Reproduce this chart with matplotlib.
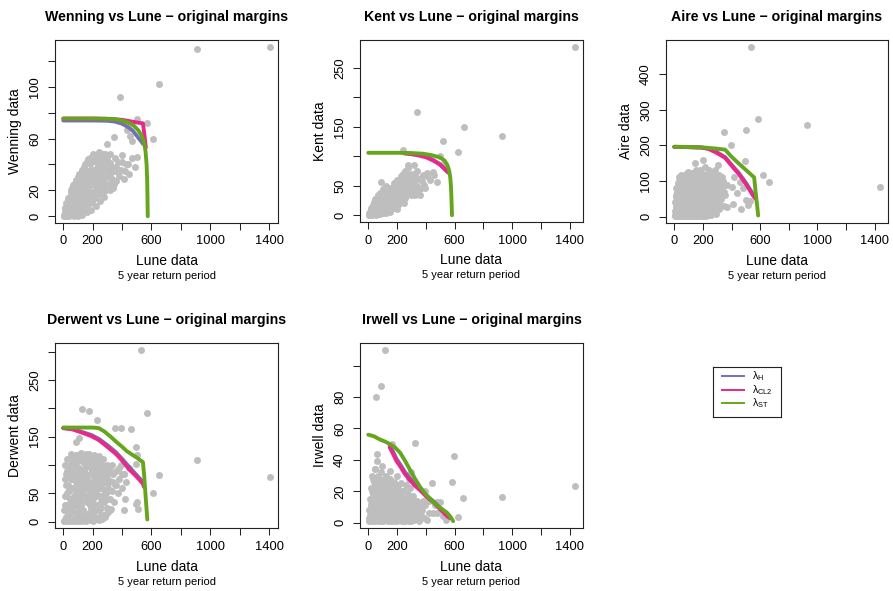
import numpy as np
import matplotlib
matplotlib.use('Agg')
import matplotlib.pyplot as plt

plt.rcParams['font.family'] = ['Liberation Sans', 'DejaVu Sans']
plt.rcParams['mathtext.fontset'] = 'custom'
plt.rcParams['mathtext.rm'] = 'Liberation Sans'
plt.rcParams['mathtext.it'] = 'Liberation Sans:italic'

GREY = '#BEBEBE'
COL_H = '#7570B3'
COL_CL2 = '#E7298A'
COL_ST = '#66A61E'

# Lune vs other rivers: (lune, other) pairs
wenning_pts = [
    (2, 0), (5, 1), (8, 0), (10, 3), (12, 1), (15, 2), (15, 6), (18, 2), (20, 5), (22, 3), (25, 1), (25, 9),
    (28, 0), (30, 8), (33, 2), (35, 4), (35, 12), (38, 6), (40, 10), (42, 3), (45, 2), (45, 15), (48, 8),
    (50, 6), (52, 1), (55, 12), (55, 20), (58, 5), (60, 3), (60, 17), (62, 10), (65, 9), (65, 24), (68, 2),
    (70, 14), (72, 7), (75, 5), (75, 22), (78, 13), (80, 11), (82, 4), (85, 18), (85, 28), (88, 9), (90, 7),
    (92, 1), (95, 15), (98, 12), (100, 24), (100, 3), (105, 11), (108, 5), (110, 20), (112, 14), (115, 30),
    (118, 2), (120, 8), (120, 16), (125, 25), (128, 6), (130, 36), (135, 12), (138, 4), (140, 21), (145, 30),
    (148, 13), (150, 9), (150, 40), (155, 18), (158, 7), (160, 27), (165, 35), (168, 20), (170, 14), (170, 44),
    (175, 23), (178, 16), (180, 31), (185, 10), (185, 40), (188, 25), (190, 19), (195, 28), (198, 11),
    (200, 36), (200, 48), (205, 15), (208, 33), (210, 24), (215, 32), (218, 14), (220, 42), (225, 20),
    (228, 37), (230, 29), (235, 38), (238, 25), (240, 50), (245, 17), (248, 43), (250, 26), (255, 34),
    (258, 21), (260, 45), (265, 22), (268, 39), (270, 31), (275, 40), (278, 24), (280, 28), (285, 48),
    (290, 20), (295, 36), (300, 44), (310, 25), (315, 33), (320, 41), (330, 29), (335, 38), (340, 22),
    (350, 35), (360, 27), (370, 42), (380, 31), (395, 36), (410, 29), (430, 40), (450, 33), (470, 45),
    (490, 38), (505, 46), (397, 47), (440, 40), (345, 61), (300, 56), (385, 92), (436, 67), (453, 62),
    (467, 58), (504, 75), (572, 72), (613, 60), (651, 102), (912, 129), (1405, 131),
    (10, 6), (20, 10), (30, 14), (40, 5), (50, 18), (60, 22), (70, 25), (80, 20), (90, 26), (100, 30),
    (110, 33), (120, 27), (130, 22), (140, 38), (150, 33), (160, 42), (170, 30), (180, 45), (190, 36),
    (200, 26), (210, 44), (220, 35), (230, 47), (240, 32), (250, 40), (260, 30), (270, 48), (280, 36),
    (290, 42), (300, 30), (310, 38), (320, 48), (330, 35), (350, 45), (360, 38), (375, 34), (400, 42),
    (420, 35), (345, 25), (320, 20), (280, 15), (250, 12), (220, 8), (190, 5), (160, 3), (130, 1), (100, 0),
    (70, 0), (40, 0), (90, 14), (110, 8), (130, 17), (150, 24), (170, 26), (190, 30), (210, 19), (230, 23),
    (250, 35), (270, 18),
]
kent_pts = [
    (3, 1), (5, 0), (8, 4), (12, 2), (15, 1), (18, 7), (20, 12), (22, 3), (25, 0), (28, 10), (30, 17),
    (32, 5), (35, 2), (38, 14), (40, 22), (42, 2), (45, 4), (48, 9), (50, 27), (52, 18), (55, 1), (58, 6),
    (60, 30), (62, 12), (65, 3), (68, 22), (70, 34), (72, 4), (75, 7), (78, 16), (80, 38), (82, 27), (85, 2),
    (88, 9), (90, 56), (92, 20), (95, 11), (98, 32), (100, 44), (102, 5), (105, 4), (108, 14), (112, 25),
    (115, 8), (118, 36), (120, 50), (122, 11), (125, 3), (128, 19), (132, 30), (135, 15), (138, 42),
    (142, 8), (145, 13), (148, 24), (152, 35), (155, 10), (158, 47), (162, 15), (165, 20), (168, 29),
    (172, 40), (175, 26), (178, 55), (182, 12), (185, 32), (188, 22), (192, 34), (195, 16), (198, 46),
    (202, 60), (205, 42), (208, 18), (212, 28), (215, 22), (218, 39), (222, 52), (225, 30), (228, 66),
    (232, 24), (235, 48), (238, 33), (242, 45), (244, 111), (245, 36), (248, 58), (252, 75), (255, 55),
    (258, 30), (262, 40), (265, 38), (268, 50), (272, 64), (275, 60), (275, 85), (278, 80), (285, 36),
    (292, 48), (298, 58), (298, 49), (305, 70), (312, 42), (320, 55), (320, 85), (328, 34), (330, 65),
    (337, 75), (340, 50), (350, 62), (360, 45), (360, 34), (375, 58), (390, 52), (395, 47), (406, 71),
    (410, 66), (430, 60), (452, 73), (455, 68), (475, 56), (499, 101), (518, 126), (522, 87), (627, 108),
    (337, 176), (662, 150), (929, 135), (1435, 286),
    (10, 5), (20, 3), (30, 8), (40, 12), (50, 10), (60, 16), (70, 20), (80, 14), (90, 25), (100, 18),
    (110, 30), (120, 22), (130, 36), (140, 28), (150, 40), (160, 32), (170, 48), (180, 38), (190, 52),
    (200, 30), (210, 46), (220, 40), (230, 58), (240, 50), (250, 66), (260, 52), (270, 70), (280, 60),
    (290, 68), (300, 45), (310, 60), (100, 28), (120, 35), (140, 20), (160, 24), (180, 45), (200, 50),
    (220, 60), (240, 70), (260, 62), (280, 45), (150, 5), (200, 10), (250, 20), (300, 35), (180, 18),
    (220, 28), (260, 42), (340, 42), (380, 68),
]
aire_pts = [
    (2, 5), (6, 15), (10, 30), (14, 8), (18, 45), (22, 20), (26, 60), (30, 12), (34, 35), (38, 75), (42, 4),
    (46, 50), (50, 25), (54, 90), (58, 10), (62, 65), (66, 38), (70, 100), (74, 18), (78, 55), (82, 80),
    (86, 6), (90, 110), (94, 30), (98, 70), (102, 45), (106, 118), (110, 14), (114, 88), (118, 60),
    (122, 24), (126, 105), (130, 40), (134, 75), (138, 8), (142, 125), (146, 52), (150, 95), (154, 30),
    (158, 68), (162, 112), (166, 16), (170, 85), (174, 44), (178, 130), (182, 60), (186, 22), (190, 100),
    (194, 76), (198, 36), (202, 120), (206, 10), (210, 55), (214, 90), (218, 138), (222, 28), (226, 70),
    (230, 110), (234, 46), (238, 15), (242, 85), (246, 125), (250, 60), (254, 34), (258, 100), (262, 75),
    (266, 20), (270, 115), (274, 50), (278, 90), (282, 40), (286, 130), (290, 65), (294, 25), (298, 105),
    (302, 80), (306, 55), (310, 38), (316, 95), (322, 70), (328, 48), (334, 110), (340, 85), (346, 30),
    (352, 60), (5, 40), (12, 55), (20, 70), (28, 85), (36, 100), (44, 95), (52, 115), (60, 40), (68, 20),
    (76, 110), (84, 120), (92, 60), (100, 95), (108, 75), (116, 35), (124, 55), (132, 100), (140, 85),
    (148, 115), (156, 50), (164, 90), (172, 105), (180, 70), (188, 120), (196, 50), (204, 85), (212, 105),
    (220, 20), (228, 95), (236, 60), (244, 40), (252, 115), (260, 50), (268, 95), (276, 120), (284, 80),
    (292, 45), (8, 2), (16, 1), (24, 3), (32, 1), (40, 2), (48, 3), (56, 1), (64, 2), (72, 4), (80, 3),
    (88, 1), (96, 5), (104, 2), (112, 3), (120, 1), (128, 4), (136, 2), (144, 5), (152, 3), (160, 2),
    (168, 4), (176, 1), (184, 6), (192, 3), (200, 2), (210, 5), (220, 3), (230, 6), (240, 4), (250, 8),
    (260, 5), (270, 10), (280, 12), (290, 8), (146, 150), (204, 158), (125, 122), (62, 105), (47, 118),
    (240, 130), (313, 118), (344, 100), (370, 88), (309, 145), (417, 112), (480, 80), (526, 45), (469, 20),
    (344, 65), (367, 28), (437, 65), (402, 82), (412, 36), (460, 98), (502, 47), (518, 33), (495, 156),
    (395, 200), (348, 237), (500, 243), (584, 274), (535, 477), (622, 117), (664, 98), (929, 257),
    (1435, 82),
    (15, 20), (15, 80), (35, 45), (35, 110), (55, 30), (55, 70), (75, 85), (75, 40), (95, 20), (95, 125),
    (115, 100), (115, 70), (135, 30), (135, 115), (155, 80), (155, 130), (175, 60), (175, 20), (195, 110),
    (195, 90), (215, 40), (215, 70), (235, 100), (235, 120), (255, 75), (255, 20), (275, 60), (275, 100),
    (295, 85), (295, 30), (315, 60), (315, 20), (65, 100), (85, 60), (105, 30), (125, 80), (145, 65),
    (165, 40), (185, 90), (205, 25), (225, 50), (245, 95), (265, 115), (285, 105), (305, 95), (325, 80),
    (345, 70), (25, 95), (45, 75), (10, 60), (20, 40),
]
derwent_pts = [
    (3, 2), (8, 20), (12, 45), (16, 8), (20, 65), (24, 30), (28, 90), (32, 12), (36, 55), (40, 98), (44, 4),
    (48, 40), (52, 75), (56, 18), (60, 105), (64, 60), (68, 28), (72, 88), (76, 6), (80, 112), (84, 48),
    (88, 70), (92, 15), (96, 118), (100, 38), (104, 95), (108, 55), (112, 10), (116, 80), (120, 122),
    (124, 30), (128, 65), (132, 105), (136, 20), (140, 90), (144, 45), (148, 115), (152, 8), (156, 72),
    (160, 100), (164, 35), (168, 58), (172, 120), (176, 15), (180, 85), (184, 50), (188, 110), (192, 25),
    (196, 68), (200, 95), (204, 40), (208, 118), (212, 10), (216, 78), (220, 55), (224, 105), (228, 30),
    (232, 88), (236, 65), (240, 115), (244, 20), (248, 75), (252, 45), (256, 100), (260, 12), (264, 85),
    (268, 58), (272, 110), (276, 35), (280, 70), (285, 95), (290, 50), (295, 25), (300, 80), (305, 60),
    (310, 92), (315, 40), (320, 72), (325, 22), (330, 100), (335, 55), (340, 85), (345, 35), (350, 65),
    (360, 90), (370, 50), (380, 75), (390, 100), (400, 60), (410, 85), (420, 40), (430, 70),
    (5, 1), (15, 3), (25, 1), (35, 4), (45, 2), (55, 5), (65, 2), (75, 3), (85, 1), (95, 6), (105, 2),
    (115, 4), (125, 1), (135, 3), (145, 6), (155, 2), (165, 4), (175, 7), (185, 3), (195, 5), (205, 2),
    (215, 8), (225, 4), (235, 6), (245, 3), (255, 9), (265, 5), (275, 12), (285, 8), (295, 15), (305, 18),
    (315, 20), (10, 75), (18, 85), (26, 50), (34, 78), (42, 25), (50, 88), (58, 35), (66, 95), (74, 45),
    (82, 30), (90, 100), (98, 62), (106, 25), (114, 108), (122, 50), (130, 85), (138, 40), (146, 75),
    (154, 98), (162, 60), (170, 45), (178, 102), (186, 70), (194, 90), (202, 60), (210, 30), (218, 90),
    (226, 75), (234, 45), (242, 95), (250, 60), (258, 35), (266, 70), (274, 95), (282, 55),
    (84, 141), (106, 147), (413, 84), (447, 95), (492, 102), (504, 34), (413, 20), (497, 32), (510, 23),
    (350, 165), (391, 165), (459, 164), (494, 131), (505, 117), (231, 180), (125, 199), (175, 195),
    (572, 192), (526, 303), (610, 50), (651, 83), (912, 109), (1405, 79),
    (10, 30), (20, 45), (30, 65), (40, 80), (50, 60), (60, 85), (70, 110), (80, 90), (90, 55), (100, 110),
    (110, 90), (120, 70), (130, 115), (140, 60), (150, 40), (160, 115), (170, 80), (180, 60), (190, 95),
    (200, 110), (210, 80), (220, 105), (230, 60), (240, 80), (250, 110), (260, 90), (270, 45), (280, 90),
    (290, 70), (300, 100), (310, 70), (320, 90), (340, 70), (360, 65), (380, 95), (400, 85), (60, 20),
    (100, 15), (140, 10), (180, 30), (220, 20), (260, 25), (300, 40), (40, 60), (120, 40), (200, 45),
    (15, 100), (25, 110), (45, 110), (55, 120), (65, 75), (85, 118), (95, 80), (105, 60), (115, 50),
    (135, 55), (145, 95), (155, 120), (165, 105), (175, 65), (185, 40), (195, 20), (205, 105), (215, 115),
    (225, 85), (235, 100), (245, 70), (255, 80), (265, 100), (275, 80),
]
irwell_pts = [
    (3, 1), (6, 8), (10, 15), (14, 3), (18, 22), (22, 10), (26, 30), (30, 5), (34, 18), (38, 1), (42, 26),
    (46, 12), (50, 34), (54, 7), (58, 20), (62, 2), (66, 28), (70, 14), (74, 4), (78, 24), (82, 10),
    (86, 32), (90, 1), (94, 17), (98, 6), (102, 27), (106, 12), (110, 3), (114, 21), (118, 8), (122, 30),
    (126, 15), (130, 2), (134, 24), (138, 9), (142, 18), (146, 4), (150, 28), (154, 12), (158, 1),
    (162, 22), (166, 7), (170, 16), (174, 3), (178, 26), (182, 10), (186, 19), (190, 2), (194, 13),
    (198, 30), (202, 6), (206, 22), (210, 11), (214, 2), (218, 17), (222, 8), (226, 25), (230, 4),
    (234, 14), (238, 1), (242, 20), (246, 9), (250, 3), (254, 15), (258, 6), (262, 24), (266, 11), (270, 2),
    (274, 18), (278, 8), (282, 13), (286, 3), (290, 22), (294, 7), (298, 1), (302, 12), (308, 5), (314, 17),
    (320, 2), (326, 10), (332, 6), (338, 14), (344, 3), (350, 9), (356, 1), (362, 12), (368, 5), (375, 8),
    (385, 3), (395, 11), (405, 2), (420, 6), (8, 3), (16, 1), (24, 4), (32, 2), (40, 5), (48, 1), (56, 3),
    (64, 6), (72, 1), (80, 4), (88, 2), (96, 3), (104, 1), (112, 5), (120, 2), (128, 4), (136, 1), (144, 3),
    (152, 5), (160, 2), (168, 4), (176, 1), (184, 5), (192, 3), (200, 1), (208, 4), (216, 2), (224, 5),
    (232, 1), (240, 4), (248, 2), (256, 1), (264, 4), (272, 3), (280, 1), (288, 5), (296, 3), (20, 12),
    (28, 20), (36, 9), (44, 16), (52, 25), (60, 11), (68, 8), (76, 18), (84, 22), (92, 11), (100, 20),
    (108, 24), (116, 15), (124, 6), (132, 19), (140, 13), (148, 22), (156, 18), (164, 11), (172, 21),
    (180, 15), (188, 24), (196, 9), (204, 16), (212, 20), (220, 12), (228, 18), (236, 9), (46, 34), (58, 44),
    (62, 39), (93, 36), (165, 50), (300, 32), (280, 28), (420, 14), (465, 11), (520, 4), (540, 2), (480, 6),
    (395, 20), (441, 25), (453, 6.5), (476, 13), (499, 13), (325, 50.6), (599, 42.4), (585, 26), (627, 3.7),
    (657, 15.7), (929, 16.3), (1435, 23.5), (54, 80), (86, 87), (116, 110),
    (10, 5), (20, 7), (30, 10), (40, 12), (50, 4), (60, 15), (70, 6), (80, 12), (90, 7), (100, 14),
    (110, 9), (120, 17), (130, 10), (140, 6), (150, 14), (160, 9), (170, 12), (180, 6), (190, 10),
    (200, 17), (210, 7), (220, 15), (230, 10), (240, 12), (250, 8), (260, 16), (270, 10), (280, 14),
    (290, 9), (300, 16), (310, 9), (320, 13), (330, 8), (340, 11), (360, 8), (380, 14), (70, 30), (40, 22),
    (110, 28), (140, 25), (200, 24), (250, 20), (30, 28), (150, 33),
]

# dependence curves: (lune, other) points for lambda_H, lambda_CL2, lambda_ST
wenning_h = [(0, 74), (100, 74), (200, 74), (300, 73.8), (350, 73.2), (400, 71.5), (440, 69), (470, 66.5),
             (495, 63), (515, 60), (530, 58), (542, 56)]
wenning_cl2 = [(0, 75.5), (100, 75.5), (200, 75.5), (300, 75.3), (350, 75), (400, 74.5), (450, 73.5),
               (500, 72.5), (542, 71.8), (550, 65), (556, 59), (562, 53)]
wenning_st = [(0, 75.5), (100, 75.5), (200, 75.5), (300, 75.3), (350, 75), (400, 74), (440, 72.5),
              (480, 70), (510, 66.5), (535, 62), (550, 57), (560, 50), (567, 40), (571, 28), (573, 15),
              (575, 0)]

kent_h = [(250, 105.5), (300, 104.5), (350, 102.5), (400, 99.5), (450, 94), (490, 88), (520, 81),
          (548, 74)]
kent_cl2 = [(250, 105), (290, 104), (350, 101.5), (406, 98), (450, 93), (499, 86), (530, 79), (557, 72)]
kent_st = [(0, 106), (100, 106), (200, 106), (300, 105.5), (380, 104.5), (440, 102), (499, 98),
           (530, 93), (550, 85), (562, 76), (570, 64), (575, 48), (578, 30), (580, 15), (582, 0)]

aire_h = [(0, 196), (104, 195), (188, 194), (240, 191), (292, 182), (355, 167), (417, 138), (448, 124),
          (500, 95), (552, 62)]
aire_cl2 = [(0, 196), (104, 195), (188, 194), (240, 190), (292, 180), (355, 165), (417, 135), (448, 121),
            (500, 92), (552, 58), (568, 50)]
aire_st = [(0, 196), (104, 195.5), (208, 194), (292, 191), (355, 188), (396, 170), (437, 154),
           (495, 133), (558, 110), (568, 70), (579, 30), (586, 3)]

derwent_h = [(0, 165), (60, 164), (129, 158), (190, 153), (242, 146), (300, 135), (356, 123), (400, 111),
             (447, 97), (500, 82), (542, 70), (550, 64)]
derwent_cl2 = [(0, 165), (60, 163), (129, 157), (190, 151), (242, 144), (300, 132), (356, 120),
               (400, 108), (447, 93), (500, 79), (542, 67), (550, 61)]
derwent_st = [(0, 166), (100, 166), (200, 166), (242, 165), (280, 159), (322, 150), (360, 141),
              (401, 132), (430, 125), (458, 120), (500, 113), (542, 105), (550, 83), (556, 61),
              (564, 32), (572, 4)]

irwell_h = [(149, 49), (162, 47), (176, 44.5), (197, 40.5), (223, 37), (257, 32), (292, 28), (327, 24.5),
            (362, 21.5), (407, 17), (455, 13.5), (492, 10), (524, 7), (552, 4.5), (569, 3.3)]
irwell_cl2 = [(149, 48), (160, 46), (174, 43.5), (195, 39.5), (221, 36), (255, 31), (290, 27),
              (325, 23.5), (360, 20.7), (405, 16.5), (453, 13), (490, 9.5), (522, 6.5), (550, 4),
              (569, 2.9)]
irwell_st = [(0, 56), (40, 55), (80, 53), (120, 51.5), (151, 50), (185, 48), (221, 44.6), (255, 39.5),
             (290, 33.7), (325, 28), (360, 22.8), (400, 18), (453, 13), (500, 9.5), (546, 6.5), (570, 4),
             (590, 1)]

x_ticks = [0, 200, 400, 600, 800, 1000, 1200, 1400]
x_ticklabels = ['0', '200', '', '600', '', '1000', '', '1400']

W, H = 893, 591
fig = plt.figure(figsize=(W / 100, H / 100), dpi=100)


def px_rect(x0, y0, x1, y1):
    return [x0 / W, (H - y1) / H, (x1 - x0) / W, (y1 - y0) / H]


def draw_panel(rect, river, pts, h, cl2, st, yticks, ylabels):
    ax = fig.add_axes(rect)
    px, py = zip(*pts)
    ax.plot(px, py, 'o', color=GREY, ms=5.0, mec='none', zorder=1)
    for curve, col in ((h, COL_H), (cl2, COL_CL2), (st, COL_ST)):
        cx, cy = zip(*curve)
        ax.plot(cx, cy, color=col, lw=2.8, solid_capstyle='round', solid_joinstyle='round', zorder=2)
    ax.margins(0.04)
    ax.set_xticks(x_ticks)
    ax.set_xticklabels(x_ticklabels)
    ax.set_yticks(yticks)
    ax.set_yticklabels(ylabels, rotation=90, va='center')
    ax.tick_params(axis='both', length=5, width=0.75, labelsize=9.3, color='#222222')
    ax.tick_params(axis='x', pad=4)
    ax.tick_params(axis='y', pad=5)
    for s in ax.spines.values():
        s.set_linewidth(0.8)
        s.set_color('#222222')
    ax.set_title(f'{river} vs Lune \u2212 original margins', fontsize=10.2, fontweight='bold', pad=14)
    ax.text(0.5, -0.21, 'Lune data', transform=ax.transAxes, ha='center', va='center', fontsize=10)
    ax.text(0.5, -0.29, '5 year return period', transform=ax.transAxes, ha='center', va='center',
            fontsize=8)
    ax.text(-0.178, 0.5, f'{river} data', transform=ax.transAxes, ha='center', va='center',
            rotation=90, fontsize=10)
    return ax


draw_panel(px_rect(55, 40, 278, 223), 'Wenning', wenning_pts, wenning_h, wenning_cl2, wenning_st,
           [0, 20, 40, 60, 80, 100, 120], ['0', '20', '', '60', '', '100', ''])
draw_panel(px_rect(360, 40, 583, 222), 'Kent', kent_pts, kent_h, kent_cl2, kent_st,
           [0, 50, 100, 150, 200, 250], ['0', '50', '', '150', '', '250'])
draw_panel(px_rect(666, 40, 888, 223), 'Aire', aire_pts, aire_h, aire_cl2, aire_st,
           [0, 100, 200, 300, 400], ['0', '100', '200', '300', '400'])
draw_panel(px_rect(55, 343, 278, 528), 'Derwent', derwent_pts, derwent_h, derwent_cl2, derwent_st,
           [0, 50, 100, 150, 200, 250, 300], ['0', '50', '', '150', '', '250', ''])
draw_panel(px_rect(360, 343, 583, 528), 'Irwell', irwell_pts, irwell_h, irwell_cl2, irwell_st,
           [0, 20, 40, 60, 80, 100], ['0', '20', '40', '60', '80', ''])

# legend box
leg = fig.add_axes(px_rect(713, 367, 781, 417))
leg.set_xlim(0, 1)
leg.set_ylim(0, 1)
leg.set_xticks([])
leg.set_yticks([])
for s in leg.spines.values():
    s.set_linewidth(0.8)
    s.set_color('#222222')
for yy, col, lab in ((0.82, COL_H, r'λ$_{\mathrm{H}}$'), (0.54, COL_CL2, r'λ$_{\mathrm{CL2}}$'),
                     (0.28, COL_ST, r'λ$_{\mathrm{ST}}$')):
    leg.plot([0.13, 0.45], [yy, yy], color=col, lw=1.4)
    leg.text(0.58, yy, lab, ha='left', va='center', fontsize=7.6)

fig.savefig('out.png', dpi=100)
